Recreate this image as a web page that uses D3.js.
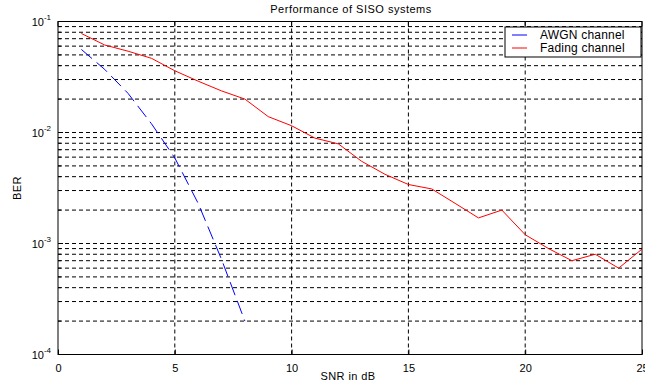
<!DOCTYPE html>
<html>
<head>
<meta charset="utf-8">
<script src="https://cdn.jsdelivr.net/npm/d3@7"></script>
<style>
  body { margin: 0; background: #fff; }
  text { font-family: "Liberation Sans", Arial, sans-serif; fill: #000; }
</style>
</head>
<body>
<div id="chart"></div>
<script>
// data
var snr = [1, 2, 3, 4, 5, 6, 7, 8, 9, 10, 11, 12, 13, 14, 15, 16, 17, 18, 19, 20, 21, 22, 23, 24, 25];
var awgnBer = [0.056, 0.037, 0.0225, 0.012, 0.0059, 0.0023, 0.00072, 0.0002];
var fadingBer = [0.078, 0.0614, 0.054, 0.0466, 0.036, 0.029, 0.0237, 0.020, 0.0139, 0.0115,
                 0.0089, 0.0079, 0.0055, 0.0042, 0.0034, 0.0031, 0.0023, 0.0017, 0.0020, 0.0012,
                 0.0009, 0.0007, 0.0008, 0.0006, 0.00089];
var xTicks = [0, 5, 10, 15, 20, 25];
var yDecades = [-1, -2, -3, -4];

var svgWidth = 645;
var svgHeight = 387;
var margin = { top: 21.5, right: 3, bottom: 32.5, left: 58 };
var width = svgWidth - margin.left - margin.right;
var height = svgHeight - margin.top - margin.bottom;

var svg = d3.select("#chart").append("svg")
  .attr("width", svgWidth)
  .attr("height", svgHeight);

var chartGroup = svg.append("g")
  .attr("transform", `translate(${margin.left}, ${margin.top})`);

var xScale = d3.scaleLinear().domain([0, 25]).range([0, width]);
var yScale = d3.scaleLog().domain([1e-4, 1e-1]).range([height, 0]);

// grid lines (MATLAB style dotted)
var yGrid = [];
[-4, -3, -2].forEach(function(e) {
  for (var m = 1; m <= 9; m++) {
    var v = m * Math.pow(10, e);
    if (v > 1e-4 && v < 1e-1) yGrid.push(v);
  }
});

chartGroup.selectAll(".hgrid")
  .data(yGrid)
  .enter()
  .append("line")
  .attr("x1", 0)
  .attr("x2", width)
  .attr("y1", d => yScale(d))
  .attr("y2", d => yScale(d))
  .attr("stroke", "#000")
  .attr("stroke-width", 1)
  .attr("stroke-dasharray", "4,3");

chartGroup.selectAll(".vgrid")
  .data(xTicks.slice(1, -1))
  .enter()
  .append("line")
  .attr("x1", d => xScale(d))
  .attr("x2", d => xScale(d))
  .attr("y1", 0)
  .attr("y2", height)
  .attr("stroke", "#000")
  .attr("stroke-width", 1)
  .attr("stroke-dasharray", "4,3");

// frame
chartGroup.append("rect")
  .attr("x", 0)
  .attr("y", 0)
  .attr("width", width)
  .attr("height", height)
  .attr("fill", "none")
  .attr("stroke", "#000")
  .attr("stroke-width", 1);

// x axis
var bottomAxis = d3.axisBottom(xScale)
  .tickValues(xTicks)
  .tickSize(-5)
  .tickPadding(10);
var xAxis = chartGroup.append("g")
  .attr("transform", `translate(0, ${height})`)
  .call(bottomAxis);
xAxis.select(".domain").remove();
xAxis.selectAll("text").style("font-size", "11px").attr("fill", "#000");

// top ticks
chartGroup.selectAll(".ttick")
  .data(xTicks)
  .enter()
  .append("line")
  .attr("x1", d => xScale(d))
  .attr("x2", d => xScale(d))
  .attr("y1", 0)
  .attr("y2", 5)
  .attr("stroke", "#000");

// y ticks, left and right, minor ones shorter
var yTickVals = yGrid.concat([1e-4, 1e-3, 1e-2, 1e-1]);
[0, width].forEach(function(x0) {
  var dir = x0 === 0 ? 1 : -1;
  chartGroup.selectAll(null)
    .data(yTickVals)
    .enter()
    .append("line")
    .attr("x1", x0)
    .attr("x2", d => {
      var major = Math.abs(Math.log10(d) - Math.round(Math.log10(d))) < 1e-9;
      return x0 + dir * (major ? 5 : 3);
    })
    .attr("y1", d => yScale(d))
    .attr("y2", d => yScale(d))
    .attr("stroke", "#000");
});

// y labels 10^n
var yLabels = chartGroup.selectAll(".ylab")
  .data(yDecades)
  .enter()
  .append("text")
  .attr("x", -7)
  .attr("y", d => yScale(Math.pow(10, d)) + 4)
  .attr("text-anchor", "end")
  .style("font-size", "11px");
yLabels.append("tspan").text("10");
yLabels.append("tspan")
  .attr("dy", -6)
  .style("font-size", "8px")
  .text(d => String(d));

// series
var berLine = d3.line()
  .x((d, i) => xScale(snr[i]))
  .y(d => yScale(d));

chartGroup.append("path")
  .datum(awgnBer)
  .attr("d", berLine)
  .attr("fill", "none")
  .attr("stroke", "#0000ff")
  .attr("stroke-width", 1)
  .attr("stroke-dasharray", "14,6");

chartGroup.append("path")
  .datum(fadingBer)
  .attr("d", berLine)
  .attr("fill", "none")
  .attr("stroke", "#ff0000")
  .attr("stroke-width", 1);

// title and axis labels
svg.append("text")
  .attr("x", 351)
  .attr("y", 13)
  .attr("text-anchor", "middle")
  .style("font-size", "11px")
  .style("letter-spacing", "0.5px")
  .text("Performance of SISO systems");

svg.append("text")
  .attr("x", 348)
  .attr("y", 380)
  .attr("text-anchor", "middle")
  .style("font-size", "11px")
  .style("letter-spacing", "0.4px")
  .text("SNR in dB");

svg.append("text")
  .attr("transform", `translate(20.5, ${margin.top + height / 2}) rotate(-90)`)
  .attr("text-anchor", "middle")
  .style("font-size", "11px")
  .style("letter-spacing", "0.4px")
  .text("BER");

// legend
var legend = svg.append("g").attr("transform", "translate(505, 27)");
legend.append("rect")
  .attr("x", 0)
  .attr("y", 0)
  .attr("width", 136)
  .attr("height", 30)
  .attr("fill", "#fff")
  .attr("stroke", "#000");

var legendItems = [
  { name: "AWGN channel", color: "#0000ff" },
  { name: "Fading channel", color: "#ff0000" }
];
legendItems.forEach(function(item, i) {
  legend.append("line")
    .attr("x1", 7)
    .attr("x2", 22)
    .attr("y1", 8 + i * 13)
    .attr("y2", 8 + i * 13)
    .attr("stroke", item.color);
  legend.append("text")
    .attr("x", 35)
    .attr("y", 11.5 + i * 13)
    .style("font-size", "12px")
    .style("letter-spacing", "0.2px")
    .text(item.name);
});
</script>
</body>
</html>
